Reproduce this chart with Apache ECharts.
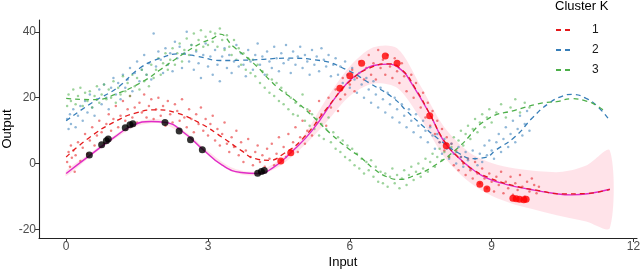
<!DOCTYPE html>
<html><head><meta charset="utf-8">
<script src="https://cdn.jsdelivr.net/npm/echarts@6/dist/echarts.min.js"></script>
<style>html,body{margin:0;padding:0;background:#fff}#c{width:640px;height:273px}</style>
</head><body><div id="c"></div>
<script>
const xTicks = [0, 3, 6, 9, 12];
const yTicks = [-20, 0, 20, 40];
const clusterNames = ['1', '2', '3'];
const clusterColors = ['#E41A1C', '#377EB8', '#4DAF4A'];

const points1 = [[0.02,0.5],[0.05,3.5],[0.08,-1],[0.1,5.5],[0.12,1.8],[0.15,4],[0.18,-2.5],[0.2,2.5],[0.25,6.5],[0.3,0.8],[0.35,4.8],[0.4,9],[0.45,3],[0.5,7],[0.55,11],[0.6,5.5],[0.65,8.5],[0.7,13],[0.75,9.5],[0.8,6],[0.85,12],[0.9,15],[0.95,10],[1.0,13.5],[1.05,17.5],[1.1,11],[1.15,14.5],[1.2,19],[1.25,13],[1.3,16.5],[1.35,20.5],[1.4,14],[1.45,17],[1.5,12.5],[1.55,18.5],[1.6,15.5],[1.65,21],[1.7,14],[1.75,17.5],[1.8,19.5],[1.85,13.5],[1.9,16.5],[1.95,20],[2.0,14.5],[2.05,17.5],[2.1,11.5],[2.15,19],[2.2,15],[2.25,12.5],[2.3,18],[2.35,16],[2.4,13],[2.45,19.5],[2.5,14],[2.55,11],[2.6,16.5],[2.65,13.5],[2.7,9.5],[2.75,15],[2.8,12],[2.85,17],[2.9,10],[2.95,13.5],[3.0,8.5],[3.05,12],[3.1,14.5],[3.15,7],[3.2,10.5],[3.25,5.5],[3.3,9],[3.35,12.5],[3.4,6],[3.45,3.5],[3.5,8],[3.55,5],[3.6,10],[3.65,2.5],[3.7,6.5],[3.75,0.5],[3.8,4],[3.85,7.5],[3.9,2],[3.95,-0.5],[4.0,3.5],[4.05,5.5],[4.1,0.5],[4.15,2.5],[4.2,-1],[4.25,4.5],[4.3,1.5],[4.35,6],[4.4,-0.5],[4.45,3],[4.5,8],[4.55,1],[4.6,5],[4.65,2],[4.7,9],[4.75,4],[4.8,6.5],[4.85,11],[4.9,3.5],[4.95,8],[5.0,13],[5.05,6],[5.1,10],[5.15,16],[5.2,8.5],[5.3,12.5],[5.35,19],[5.4,15],[5.5,11.5],[5.55,20],[5.6,17],[5.7,22.5],[5.75,16],[5.8,19.5],[5.85,26],[5.9,21],[6.0,24],[6.05,28.5],[6.1,22],[6.15,26],[6.2,31],[6.3,25.5],[6.35,29],[6.4,33],[6.45,27],[6.5,30.5],[6.55,25.5],[6.6,34.5],[6.65,29],[6.7,31.5],[6.75,27],[6.8,33],[6.85,29.5],[6.9,26],[6.95,32],[7.0,28],[7.05,24.5],[7.1,30.5],[7.15,26.5],[7.2,22],[7.3,27],[7.35,20],[7.4,24.5],[7.5,17],[7.55,21.5],[7.6,14],[7.65,18.5],[7.7,11.5],[7.75,16],[7.8,9],[7.85,13],[7.9,6.5],[7.95,10.5],[8.0,4],[8.05,8],[8.1,2],[8.15,6],[8.2,-0.5],[8.25,4],[8.3,-2],[8.35,2],[8.4,0],[8.45,-3.5],[8.5,1.5],[8.55,-2],[8.6,-4.5],[8.65,0.5],[8.7,-3],[8.75,-6],[8.8,-1.5],[8.85,-4.5],[8.9,-7.5],[8.95,-3],[9.0,-5.5],[9.05,-8.5],[9.1,-4],[9.15,-6.5],[9.2,-2.5],[9.25,-9],[9.3,-5.5],[9.35,-7.5],[9.4,-4],[9.45,-9.5],[9.5,-6],[9.55,-8],[9.6,-3.5],[9.65,-7],[9.7,-10],[9.75,-5.5],[9.8,-8.5],[9.85,-4.5],[9.9,-6.5],[9.95,-9],[10.0,-7]];

const points2 = [[0.02,13.5],[0.05,10.5],[0.08,15],[0.1,12],[0.15,16.5],[0.2,11],[0.25,14.5],[0.3,17.5],[0.35,13],[0.4,19],[0.45,15.5],[0.5,21],[0.55,17],[0.6,14.5],[0.65,19.5],[0.7,22.5],[0.75,18],[0.8,24],[0.85,20],[0.9,16.5],[0.95,23],[1.0,26],[1.05,21],[1.1,24.5],[1.15,19.5],[1.2,27],[1.25,23],[1.3,25.5],[1.35,29],[1.4,22],[1.45,27.5],[1.5,31],[1.55,25],[1.6,28.5],[1.65,33],[1.7,27],[1.75,30.5],[1.8,25.5],[1.85,39.5],[1.9,29.5],[1.95,34],[2.0,31.5],[2.05,27.5],[2.1,35],[2.15,30],[2.2,33.5],[2.25,28],[2.3,37],[2.35,32],[2.4,35.5],[2.45,29],[2.5,33.5],[2.55,40],[2.6,31],[2.65,36],[2.7,28.5],[2.75,34],[2.8,30.5],[2.85,26],[2.9,33],[2.95,36.5],[3.0,29.5],[3.05,32.5],[3.1,27],[3.15,34.5],[3.2,30],[3.25,25],[3.3,32.5],[3.35,35],[3.4,29],[3.45,33],[3.5,27.5],[3.55,31],[3.6,36],[3.65,29.5],[3.7,33.5],[3.75,30],[3.8,26.5],[3.85,34.5],[3.9,31],[3.95,28.5],[4.0,33],[4.05,36.5],[4.1,30],[4.15,32.5],[4.2,27],[4.25,34],[4.3,31],[4.35,29],[4.4,35.5],[4.45,32],[4.5,28],[4.55,33.5],[4.6,30.5],[4.65,36],[4.7,31.5],[4.75,27.5],[4.8,34],[4.85,30],[4.9,32.5],[4.95,35.5],[5.0,29],[5.05,33],[5.1,31],[5.15,27],[5.2,34.5],[5.25,30],[5.3,32.5],[5.35,28],[5.4,35],[5.45,31.5],[5.5,29.5],[5.55,33],[5.6,26.5],[5.65,30],[5.7,32],[5.75,27],[5.8,29.5],[5.85,24.5],[5.9,31],[5.95,27],[6.0,23],[6.05,29],[6.1,25.5],[6.15,21.5],[6.2,27.5],[6.25,24],[6.3,20],[6.35,26],[6.4,22.5],[6.45,18.5],[6.5,25],[6.55,21],[6.6,17],[6.65,23],[6.7,19.5],[6.75,15.5],[6.8,21.5],[6.85,18],[6.9,14],[6.95,20],[7.0,16.5],[7.05,12.5],[7.1,18],[7.15,14.5],[7.2,11],[7.25,16.5],[7.3,13],[7.35,9.5],[7.4,15],[7.45,11.5],[7.5,8],[7.55,13],[7.6,10],[7.65,6.5],[7.7,11],[7.75,8.5],[7.8,4.5],[7.85,9],[7.9,6.5],[7.95,3],[8.0,7.5],[8.05,4.5],[8.1,1.5],[8.15,6],[8.2,3],[8.25,0],[8.3,5],[8.35,2],[8.4,-1],[8.45,3.5],[8.5,1],[8.55,-1.5],[8.6,4],[8.65,1.5],[8.7,-0.5],[8.75,3],[8.8,0.5],[8.85,5.5],[8.9,2.5],[8.95,7],[9.0,4],[9.05,1.5],[9.1,6.5],[9.15,9],[9.2,3.5],[9.25,7.5],[9.3,11],[9.35,5],[9.4,9],[9.45,13],[9.5,6.5],[9.55,10.5],[9.6,14.5],[9.65,8.5],[9.7,12],[9.75,16],[9.8,10]];

const points3 = [[0.02,17.5],[0.05,21],[0.1,19],[0.15,22.5],[0.2,18],[0.25,20.5],[0.3,23],[0.35,17.5],[0.4,21.5],[0.45,19],[0.5,22],[0.55,17],[0.6,20.5],[0.65,23.5],[0.7,18.5],[0.75,21],[0.8,24],[0.85,19.5],[0.9,22.5],[0.95,20],[1.0,25],[1.05,18.5],[1.1,23],[1.15,21],[1.2,26.5],[1.25,22],[1.3,24.5],[1.35,20.5],[1.4,27],[1.45,23.5],[1.5,26],[1.55,22.5],[1.6,28.5],[1.65,25],[1.7,27],[1.75,23.5],[1.8,30],[1.85,26],[1.9,28.5],[1.95,32],[2.0,27],[2.05,30.5],[2.1,33.5],[2.15,28.5],[2.2,31.5],[2.25,35],[2.3,30],[2.35,33.5],[2.4,36.5],[2.45,31],[2.5,34.5],[2.55,38],[2.6,33],[2.65,36],[2.7,39.5],[2.75,34.5],[2.8,37.5],[2.85,40.5],[2.9,35.5],[2.95,38.5],[3.0,36],[3.05,40],[3.1,37],[3.15,39.5],[3.2,35.5],[3.25,41],[3.3,37.5],[3.35,34.5],[3.4,39],[3.45,35.5],[3.5,33],[3.55,37.5],[3.6,31.5],[3.65,35],[3.7,30],[3.75,33.5],[3.8,28.5],[3.85,32],[3.9,27.5],[3.95,31.5],[4.0,26.5],[4.05,30],[4.1,24.5],[4.15,28],[4.2,23],[4.25,27],[4.3,21.5],[4.35,25.5],[4.4,20.5],[4.45,24.5],[4.5,19],[4.55,23],[4.6,18],[4.65,21.5],[4.7,16.5],[4.75,20],[4.8,15],[4.85,18.5],[4.9,14.5],[4.95,17.5],[5.0,21],[5.05,13],[5.1,16.5],[5.15,11.5],[5.2,15],[5.25,10.5],[5.3,13.5],[5.35,8.5],[5.4,12],[5.45,7.5],[5.5,10.5],[5.55,14],[5.6,6.5],[5.65,9.5],[5.7,4.5],[5.75,8],[5.8,3.5],[5.85,7],[5.9,2],[5.95,5.5],[6.0,1],[6.05,4.5],[6.1,-0.5],[6.15,3],[6.2,-1.5],[6.25,1.5],[6.3,-3],[6.35,0.5],[6.4,-2],[6.45,1],[6.5,-4],[6.55,-1],[6.6,-5.5],[6.65,-2.5],[6.7,-6],[6.75,-3],[6.8,-7],[6.85,-4],[6.9,-1.5],[6.95,-6],[7.0,-3.5],[7.05,-7.5],[7.1,-4.5],[7.15,-2],[7.2,-6.5],[7.25,-3.5],[7.3,-1],[7.35,-5],[7.4,-2.5],[7.45,0],[7.5,-4],[7.55,-1.5],[7.6,1.5],[7.65,-2.5],[7.7,0.5],[7.75,3],[7.8,-1],[7.85,2],[7.9,4.5],[7.95,1],[8.0,3.5],[8.05,6],[8.1,2],[8.15,5],[8.2,8],[8.25,3.5],[8.3,7],[8.35,10],[8.4,5.5],[8.45,9],[8.5,11.5],[8.55,7.5],[8.6,10.5],[8.65,13.5],[8.7,9.5],[8.75,12.5],[8.8,15],[8.85,11],[8.9,14],[8.95,16.5],[9.0,12.5],[9.1,15.5],[9.2,18],[9.3,14],[9.4,17],[9.5,19.5],[9.6,15.5],[9.7,18.5],[9.8,17]];

const trend1 = [[0,2],[0.5,8],[1.0,12.5],[1.5,15.5],[1.9,16.3],[2.3,15.5],[2.8,12.5],[3.3,8],[3.7,4],[4.0,1.5],[4.3,1],[4.6,3],[5.0,7.5],[5.5,16.5],[6.0,25],[6.5,29.5],[6.8,30.3],[7.1,28.5],[7.4,22.5],[7.7,14.8],[8.0,6.8],[8.3,1.8],[8.6,-1.8],[9.0,-4.6],[9.5,-6.8],[10.0,-8.2],[10.5,-9.2],[11.0,-9.1],[11.5,-7.8]];
const trend2 = [[0,13],[0.58,18.8],[1.07,22.9],[1.56,29],[1.99,32],[2.41,33.3],[2.8,32.5],[3.25,31.3],[3.96,31.5],[4.66,32],[5.37,31.3],[5.93,28.5],[6.42,24.4],[6.92,19.9],[7.2,16],[7.5,12],[7.9,7.2],[8.3,3.2],[8.6,1.5],[8.85,1.8],[9.1,4.2],[9.5,8.2],[9.87,14],[10.2,18.2],[10.5,20.5],[10.7,21],[11.0,19.8],[11.25,17.2],[11.46,13.8]];
const trend3 = [[0,19.8],[0.58,19.4],[1.07,21.2],[1.63,25],[1.99,28.5],[2.34,32],[2.83,36.4],[3.11,38.1],[3.25,39.3],[3.53,35.6],[3.96,30.5],[4.45,23.4],[4.87,18.8],[5.22,14.3],[5.6,9],[6.0,4.2],[6.21,2.1],[6.5,-1.5],[6.78,-4],[7.06,-4.8],[7.3,-4],[7.76,-0.9],[8.32,5.2],[8.89,13.3],[9.52,16.3],[10.08,18.4],[10.37,18.8],[10.7,19.7],[11.0,19],[11.2,17.8],[11.4,15.8]];

const gpMean = [[0,-3],[0.5,2.5],[1.0,7.8],[1.4,11.5],[1.8,12.8],[2.1,12.5],[2.5,9.3],[2.9,4.2],[3.3,-0.5],[3.7,-2.7],[4.05,-3],[4.4,-1],[4.75,3.3],[5.2,10],[5.8,22],[6.2,27.5],[6.6,30],[6.8,30.2],[7.1,28.3],[7.3,24.5],[7.7,14.8],[8.0,6.5],[8.3,1.8],[8.6,-1.8],[8.9,-4.4],[9.3,-6.3],[9.8,-7.8],[10.3,-9],[10.7,-9.5],[11.1,-9],[11.5,-7.8]];

const bandX  = [0,0.5,1,1.5,2,2.5,3,3.5,4,4.5,5,5.5,6,6.5,7,7.5,8,8.5,9,9.5,10,10.5,11,11.5];
const bandLo = [-3.8,1.9,7.2,11.4,12.2,8.7,2.6,-2.4,-3.6,-1,5,12.5,20.5,24.3,23,13.5,2,-5.3,-9.8,-12.5,-14.3,-16.1,-17.6,-19.6];
const bandHi = [-2.2,3.1,8.4,12.6,13.4,9.9,3.8,-1.2,-2.4,1,8,19.5,29.5,35.3,35,23.5,11,3.7,0.2,-1.5,-2.3,-2.5,-0.6,4];

const obsBlack = [[0.49,2.6],[0.75,5.7],[0.85,6.9],[0.89,7.5],[1.25,10.9],[1.35,11.8],[1.41,12.1],[2.09,12.5],[2.39,9.9],[2.63,7.2],[2.88,4.2],[4.05,-2.9],[4.13,-2.4],[4.19,-2.1]];
const obsRed = [[4.54,0.8],[4.75,3.3],[5.79,22.9],[6.0,26.7],[6.25,30.5],[6.75,32.7],[7.0,30.5],[7.69,14.5],[8.04,5.4],[8.75,-6.3],[8.9,-7.7],[9.45,-10.5],[9.52,-10.7],[9.59,-10.8],[9.68,-11],[9.73,-10.8]];

const FONT = 'Liberation Sans, Arial, sans-serif';
const chart = echarts.init(document.getElementById('c'), null, {renderer: 'canvas'});

const series = [];
series.push({
  type: 'custom', name: 'band', silent: true, z: 1, clip: true,
  data: [[bandX[0], bandLo[0]]],
  renderItem: function (params, api) {
    const pts = [];
    for (let i = 0; i < bandX.length; i++) pts.push(api.coord([bandX[i], bandHi[i]]));
    for (let i = bandX.length - 1; i >= 0; i--) pts.push(api.coord([bandX[i], bandLo[i]]));
    return {
      type: 'polygon',
      shape: {points: pts, smooth: 0.3},
      style: {fill: 'rgba(255,182,196,0.38)', stroke: 'none'}
    };
  }
});
[points1, points2, points3].forEach((p, i) => {
  series.push({
    type: 'scatter', name: 'pts' + i, data: p, symbol: 'circle', symbolSize: 2.5, silent: true, z: 2,
    itemStyle: {color: clusterColors[i], opacity: 0.55}
  });
});
series.push({
  type: 'line', name: 'gp', data: gpMean, smooth: true, symbol: 'none', z: 3, silent: true,
  lineStyle: {color: '#E02BC8', width: 1.4}
});
[trend1, trend2, trend3].forEach((t, i) => {
  series.push({
    type: 'line', name: clusterNames[i], data: t, smooth: true, symbol: 'none', showSymbol: false, z: 4, silent: true,
    color: clusterColors[i],
    lineStyle: {color: clusterColors[i], width: 1.3, type: [5, 4]}
  });
});
series.push({
  type: 'scatter', name: 'obsBlack', data: obsBlack, symbolSize: 7, z: 5,
  itemStyle: {color: '#000'}
});
series.push({
  type: 'scatter', name: 'obsRed', data: obsRed, symbolSize: 7, z: 5,
  itemStyle: {color: '#FF0000'}
});

chart.setOption({
  animation: false,
  backgroundColor: '#fff',
  textStyle: {fontFamily: FONT},
  title: {
    text: 'Cluster K', left: 555, top: 0, padding: 0,
    textStyle: {fontSize: 13, fontWeight: 'normal', color: '#000', fontFamily: FONT}
  },
  legend: {
    data: clusterNames, orient: 'vertical', left: 555, top: 24, padding: 0,
    itemWidth: 17, itemHeight: 14, itemGap: 8,
    itemStyle: {opacity: 0},
    textStyle: {fontSize: 12, color: '#1a1a1a', padding: [0, 0, 0, 14], fontFamily: FONT}
  },
  grid: {left: 39, right: 3, top: 20, bottom: 35, containLabel: false, outerBoundsMode: 'none'},
  xAxis: {
    type: 'value', min: -0.575, max: 12.075,
    name: 'Input', nameLocation: 'middle', nameGap: 18, nameMoveOverlap: false,
    nameTextStyle: {fontSize: 13, color: '#000', fontFamily: FONT, padding: [0, 0, 0, 10]},
    axisLine: {show: true, onZero: false, lineStyle: {color: '#222', width: 1.1}},
    axisTick: {show: true, length: 4, customValues: xTicks, lineStyle: {color: '#333'}},
    axisLabel: {customValues: xTicks, color: '#4D4D4D', fontSize: 12, margin: 3, fontFamily: FONT},
    splitLine: {show: false}
  },
  yAxis: {
    type: 'value', min: -22.6, max: 43.6,
    name: 'Output', nameLocation: 'middle', nameGap: 25, nameMoveOverlap: false,
    nameTextStyle: {fontSize: 13, color: '#000', fontFamily: FONT},
    axisLine: {show: true, onZero: false, lineStyle: {color: '#222', width: 1.1}},
    axisTick: {show: true, length: 4, customValues: yTicks, lineStyle: {color: '#333'}},
    axisLabel: {customValues: yTicks, color: '#4D4D4D', fontSize: 12, margin: 3, fontFamily: FONT},
    splitLine: {show: false}
  },
  series: series
});
</script>
</body></html>
